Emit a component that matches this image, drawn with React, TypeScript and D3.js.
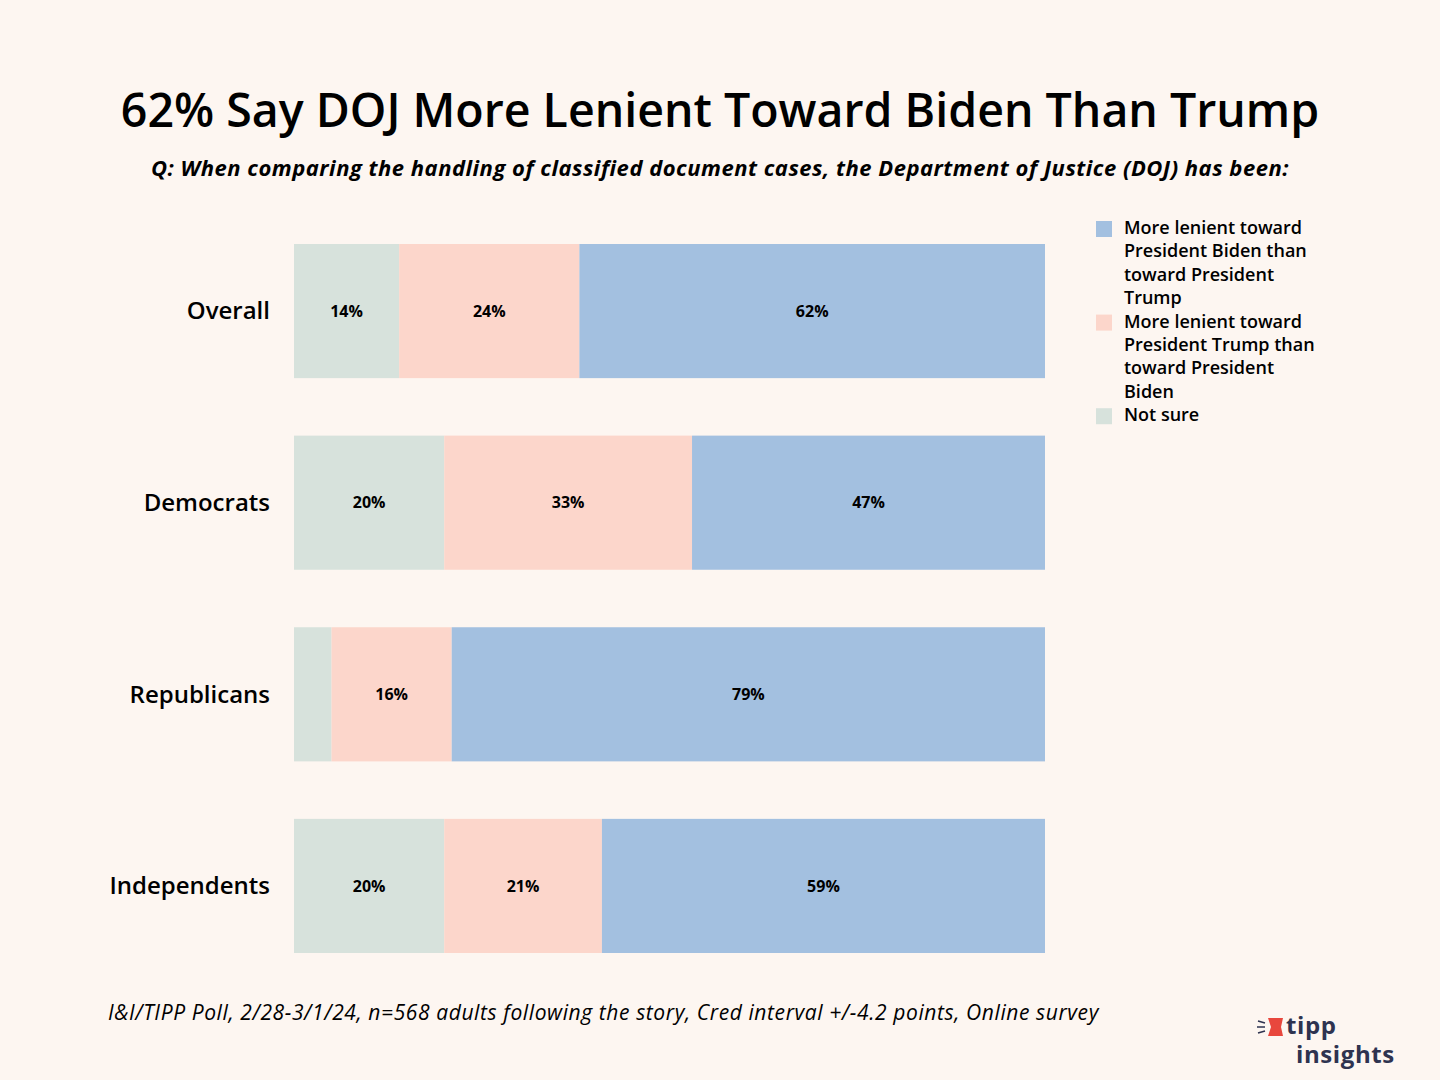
import React from "react";
import * as d3 from "d3";

const categories = ["Overall", "Democrats", "Republicans", "Independents"];
const notSure = [14, 20, 5, 20];
const towardTrump = [24, 33, 16, 21];
const towardBiden = [62, 47, 79, 59];
const seriesKeys = ["notSure", "trump", "biden"];
const seriesLabels: Record<string, string[]> = {
  biden: ["More lenient toward", "President Biden than", "toward President", "Trump"],
  trump: ["More lenient toward", "President Trump than", "toward President", "Biden"],
  notSure: ["Not sure"],
};
const colors: Record<string, string> = {
  notSure: "#d7e2dc",
  trump: "#fcd6cb",
  biden: "#a3c0e0",
};
const legendOrder = ["biden", "trump", "notSure"];

const W = 1440;
const H = 1080;
const FONT = "'Open Sans', 'Liberation Sans', sans-serif";

export default function App() {
  const rows = categories.map((c, i) => ({
    category: c,
    notSure: notSure[i],
    trump: towardTrump[i],
    biden: towardBiden[i],
  }));
  const stack = d3.stack<any>().keys(seriesKeys)(rows);
  const x = d3.scaleLinear().domain([0, 100]).range([294, 1045]);
  const y = d3
    .scaleBand()
    .domain(categories)
    .range([244, 953])
    .paddingInner(0.3)
    .paddingOuter(0);

  let legendY = 234;
  const legendItems: { key: string; lines: string[]; y: number }[] = [];
  legendOrder.forEach((k) => {
    legendItems.push({ key: k, lines: seriesLabels[k], y: legendY });
    legendY += seriesLabels[k].length * 23.4;
  });

  return (
    <svg
      width={W}
      height={H}
      style={{ display: "block", position: "absolute", left: 0, top: 0 }}
    >
      <rect width={W} height={H} fill="#fdf6f1" />
      <text
        x={720}
        y={127}
        textAnchor="middle"
        fontFamily={FONT}
        fontWeight={600}
        fontSize={46.5}
        fill="#000"
      >
        62% Say DOJ More Lenient Toward Biden Than Trump
      </text>
      <text
        x={720}
        y={176}
        textAnchor="middle"
        fontFamily={FONT}
        fontWeight={700}
        fontStyle="italic"
        fontSize={22}
        letterSpacing={0.5}
        fill="#000"
      >
        Q: When comparing the handling of classified document cases, the Department of Justice (DOJ) has been:
      </text>

      {stack.map((layer) => (
        <g key={layer.key}>
          {layer.map((d, i) => {
            const cat = categories[i];
            const x0 = x(d[0]);
            const x1 = x(d[1]);
            const v = d[1] - d[0];
            return (
              <g key={cat}>
                <rect
                  x={x0}
                  y={y(cat)!}
                  width={x1 - x0}
                  height={y.bandwidth()}
                  fill={colors[layer.key]}
                />
                {v >= 8 && (
                  <text
                    x={(x0 + x1) / 2}
                    y={y(cat)! + y.bandwidth() / 2}
                    dy="0.35em"
                    textAnchor="middle"
                    fontFamily={FONT}
                    fontWeight={700}
                    fontSize={16}
                    fill="#000"
                  >
                    {v}%
                  </text>
                )}
              </g>
            );
          })}
        </g>
      ))}

      {categories.map((c) => (
        <text
          key={c}
          x={270}
          y={y(c)! + y.bandwidth() / 2}
          dy="0.35em"
          textAnchor="end"
          fontFamily={FONT}
          fontWeight={600}
          fontSize={24}
          fill="#000"
        >
          {c}
        </text>
      ))}

      {legendItems.map((item) => (
        <g key={item.key}>
          <rect x={1096} y={item.y - 13} width={16} height={16} fill={colors[item.key]} />
          {item.lines.map((ln, j) => (
            <text
              key={j}
              x={1124}
              y={item.y + j * 23.4}
              fontFamily={FONT}
              fontWeight={600}
              fontSize={18}
              fill="#000"
            >
              {ln}
            </text>
          ))}
        </g>
      ))}

      <text
        x={108}
        y={1020}
        fontFamily={FONT}
        fontStyle="italic"
        fontWeight={500}
        fontSize={21}
        letterSpacing={0.6}
        fill="#000"
      >
        I&amp;I/TIPP Poll, 2/28-3/1/24, n=568 adults following the story, Cred interval +/-4.2 points, Online survey
      </text>

      <g>
        <path d="M1268,1018 L1283,1018 L1281,1027 L1283,1036 L1268,1036 L1271,1027 Z" fill="#e8473d" />
        <path d="M1258,1021 L1265,1023 M1257,1027 L1265,1027 M1258,1033 L1265,1031" stroke="#2e3350" strokeWidth={1.6} />
        <text fontFamily={FONT} fontWeight={700} fontSize={24} fill="#2e3350">
          <tspan x={1286} y={1034} letterSpacing={0.6}>tipp</tspan>
          <tspan x={1296} y={1063} letterSpacing={0.6}>insights</tspan>
        </text>
      </g>
    </svg>
  );
}
